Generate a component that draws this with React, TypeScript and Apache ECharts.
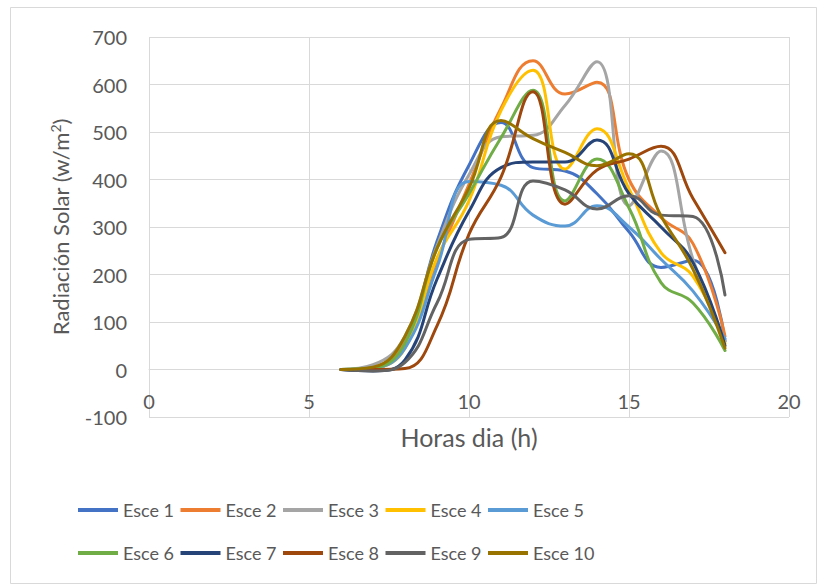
import React, { useEffect, useRef } from "react";
import * as echarts from "echarts";

const hours = [6, 7, 8, 9, 10, 11, 12, 13, 14, 15, 16, 17, 18];
const seriesNames = ["Esce 1", "Esce 2", "Esce 3", "Esce 4", "Esce 5", "Esce 6", "Esce 7", "Esce 8", "Esce 9", "Esce 10"];
const colors = ["#4472C4", "#ED7D31", "#A5A5A5", "#FFC000", "#5B9BD5", "#70AD47", "#264478", "#9E480E", "#636363", "#997300"];

const esce1 = [0, 2, 55, 270, 430, 520, 425, 418, 370, 290, 215, 230, 60];
const esce2 = [0, 5, 60, 230, 390, 550, 650, 580, 605, 400, 320, 265, 70];
const esce3 = [0, 10, 70, 260, 410, 490, 493, 556, 648, 345, 460, 232, 60];
const esce4 = [0, 3, 45, 235, 355, 545, 630, 422, 507, 380, 246, 196, 55];
const esce5 = [0, 3, 45, 215, 396, 388, 325, 302, 345, 300, 232, 165, 65];
const esce6 = [0, 3, 55, 255, 370, 488, 588, 355, 443, 340, 183, 140, 40];
const esce7 = [0, -3, 20, 190, 333, 425, 437, 437, 483, 370, 300, 225, 50];
const esce8 = [0, 0, 2, 92, 285, 405, 585, 348, 420, 443, 470, 360, 246];
const esce9 = [0, -3, 15, 140, 274, 278, 397, 378, 338, 366, 325, 322, 157];
const esce10 = [0, 5, 70, 255, 382, 524, 486, 457, 429, 454, 323, 211, 45];

const allValues = [esce1, esce2, esce3, esce4, esce5, esce6, esce7, esce8, esce9, esce10];

const FONT = "Lato, 'Noto Sans', sans-serif";
const TXT = "#595959";
const GRID = "#D9D9D9";

export default function App() {
  const ref = useRef<HTMLDivElement>(null);
  useEffect(() => {
    if (!ref.current) return;
    const chart = echarts.init(ref.current, undefined, { renderer: "svg" });
    const series = allValues.map((vals, i) => ({
      name: seriesNames[i],
      type: "line",
      data: hours.map((h, j) => [h, vals[j]]),
      smooth: 0.45,
      showSymbol: false,
      symbol: "none",
      lineStyle: { width: 3, color: colors[i], cap: "round" },
      itemStyle: { color: colors[i] },
    }));
    const legendLefts = [78, 180.5, 283, 385.5, 488];
    const legends = seriesNames.map((name, i) => ({
      left: legendLefts[i % 5],
      top: i < 5 ? 501 : 544,
      padding: 0,
      itemWidth: 40,
      itemHeight: 4,
      icon: "rect",
      data: [name],
      textStyle: { fontFamily: FONT, fontSize: 18, color: TXT },
    }));
    chart.setOption({
      animation: false,
      color: colors,
      textStyle: { fontFamily: FONT },
      grid: { left: 149, right: 30, top: 37, bottom: 168 },
      xAxis: {
        type: "value",
        min: 0,
        max: 20,
        interval: 5,
        offset: -47.5,
        name: "Horas dia (h)",
        nameLocation: "middle",
        nameGap: 55,
        nameTextStyle: { fontFamily: FONT, fontSize: 25, color: TXT },
        axisLine: { show: true, onZero: false, lineStyle: { color: GRID, width: 1 } },
        axisTick: { show: false },
        axisLabel: { fontFamily: FONT, fontSize: 20, color: TXT, margin: 21 },
        splitLine: { show: true, lineStyle: { color: GRID, width: 1 } },
      },
      yAxis: {
        type: "value",
        min: -100,
        max: 700,
        interval: 100,
        name: "{t|Radiación Solar (w/m}{s|2}{t|)}",
        nameLocation: "middle",
        nameGap: 77,
        nameTextStyle: {
          fontFamily: FONT,
          fontSize: 22,
          color: TXT,
          rich: {
            t: { fontFamily: FONT, fontSize: 22, color: TXT },
            s: { fontFamily: FONT, fontSize: 14, color: TXT, verticalAlign: "top", padding: [0, 0, 10, 0] },
          },
        },
        axisLine: { show: false },
        axisTick: { show: false },
        axisLabel: { fontFamily: FONT, fontSize: 20, color: TXT, margin: 22 },
        splitLine: { show: true, lineStyle: { color: GRID, width: 1 } },
      },
      legend: legends,
      graphic: [
        {
          type: "rect",
          shape: { x: 10.5, y: 7.5, width: 806, height: 576 },
          style: { fill: "none", stroke: GRID, lineWidth: 1 },
          silent: true,
        },
      ],
      series,
    });
    return () => chart.dispose();
  }, []);
  return (
    <div
      ref={ref}
      style={{ position: "absolute", left: 0, top: 0, width: 819, height: 585, background: "#fff" }}
    />
  );
}
